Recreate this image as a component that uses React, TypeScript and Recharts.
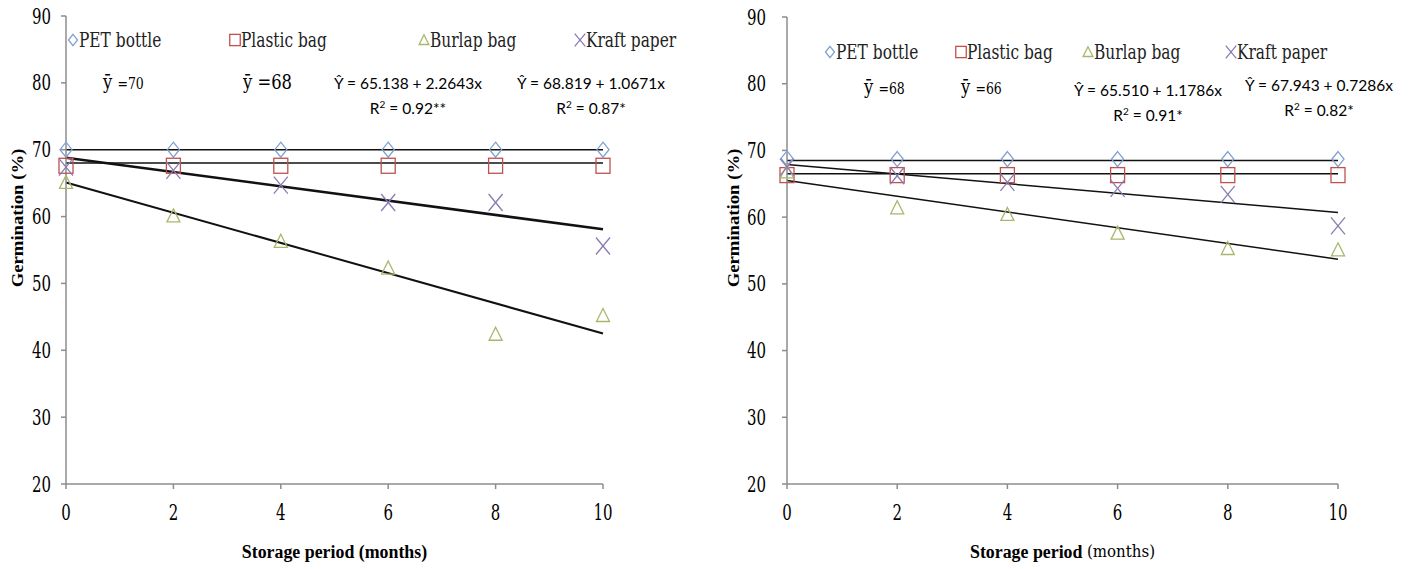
import React from "react";
import { ComposedChart, Scatter, Line, XAxis, YAxis, Label } from "recharts";

const months = [0, 2, 4, 6, 8, 10];
const fitX = [0, 10];
const yTicks = [20, 30, 40, 50, 60, 70, 80, 90];
const seriesNames = ["PET bottle", "Plastic bag", "Burlap bag", "Kraft paper"];
const seriesColors = ["#7ea1d3", "#c0504d", "#a6b86c", "#8a7bb3"];

// left panel
const petA = [70, 70, 70, 70, 70, 70];
const plasticA = [67.6, 67.6, 67.6, 67.6, 67.6, 67.6];
const burlapA = [65.1, 60.1, 56.3, 52.3, 42.4, 45.2];
const kraftA = [67.4, 66.9, 64.7, 62.1, 62.1, 55.6];
const meanA = [70, 68];
const burlapFitA = [65.1, 42.5];
const kraftFitA = [68.8, 58.1];

// right panel
const petB = [68.8, 68.7, 68.7, 68.7, 68.7, 68.7];
const plasticB = [66.3, 66.3, 66.3, 66.3, 66.3, 66.3];
const burlapB = [66.8, 61.4, 60.4, 57.6, 55.3, 55.1];
const kraftB = [67.5, 66.2, 65.2, 64.3, 63.4, 58.7];
const meanB = [68.5, 66.5];
const burlapFitB = [65.5, 53.7];
const kraftFitB = [67.9, 60.7];

const pts = (vals: number[], xs = months) => vals.map((y, i) => ({ x: xs[i], y }));

const Marker = ({ kind, cx, cy, s = 1 }: any) => {
  const c = seriesColors[kind];
  if (kind === 0)
    return <polygon points={`${cx},${cy - 7.5 * s} ${cx + 6 * s},${cy} ${cx},${cy + 7.5 * s} ${cx - 6 * s},${cy}`} fill="none" stroke={c} strokeWidth={1.3} />;
  if (kind === 1)
    return <rect x={cx - 7 * s} y={cy - 7.5 * s} width={14 * s} height={15 * s} fill="none" stroke={c} strokeWidth={1.3} />;
  if (kind === 2)
    return <polygon points={`${cx},${cy - 7 * s} ${cx + 6.5 * s},${cy + 6 * s} ${cx - 6.5 * s},${cy + 6 * s}`} fill="none" stroke={c} strokeWidth={1.3} />;
  return (
    <g stroke={c} strokeWidth={1.3}>
      <line x1={cx - 7 * s} y1={cy - 8.5 * s} x2={cx + 7 * s} y2={cy + 8.5 * s} />
      <line x1={cx + 7 * s} y1={cy - 8.5 * s} x2={cx - 7 * s} y2={cy + 8.5 * s} />
    </g>
  );
};

const LegendMark = ({ kind }: any) => (
  <svg width={12} height={18} style={{ verticalAlign: "-2px" }}>
    <Marker kind={kind} cx={6} cy={9} s={0.75} />
  </svg>
);

const serif = "'DejaVu Serif', serif";
const serifBold = "Liberation Serif";
const sans = "Lato";

// narrowed serif text, the reference uses a Times-like face squeezed sideways
const Narrow = ({ children, k = 0.8 }: any) => (
  <span style={{ display: "inline-block", transform: `scaleX(${k})`, transformOrigin: "left center" }}>{children}</span>
);

const YTick = ({ x, y, payload }: any) => (
  <g transform={`translate(${x},${y}) scale(0.68 1)`}>
    <text x={0} y={0} textAnchor="end" dominantBaseline="central" fontFamily={serif} fontSize={22} fill="#000">
      {payload.value}
    </text>
  </g>
);
const XTick = ({ x, y, payload }: any) => (
  <g transform={`translate(${x},${y + 23}) scale(0.68 1)`}>
    <text x={0} y={0} textAnchor="middle" dominantBaseline="central" fontFamily={serif} fontSize={22} fill="#000">
      {payload.value}
    </text>
  </g>
);

function Panel(props: any) {
  const { left, top, width, yWidth, yMargin, titleX, series, means, fits, legendX, legendY, meanLabels, eqs,
    boldMonths, thick } = props;
  const axisColor = "#8c8c8c";

  const YTitle = ({ viewBox }: any) => {
    const cx = viewBox.x + titleX;
    const cy = 218;
    return (
      <g transform={`translate(${cx} ${cy}) rotate(-90) scale(1.1 1)`}>
        <text x={0} y={0} textAnchor="middle" dominantBaseline="central"
          fontFamily={serifBold} fontWeight="bold" fontSize={17}>
          Germination (%)
        </text>
      </g>
    );
  };
  const XTitle = ({ viewBox }: any) => {
    const cx = viewBox.x + viewBox.width / 2;
    const cy = viewBox.y + 68;
    return (
      <g transform={`translate(${cx} ${cy}) scale(0.94 1)`}>
        <text x={0} y={0} textAnchor="middle" dominantBaseline="central" fontFamily={serifBold} fontSize={19}>
          <tspan fontWeight="bold">Storage period </tspan>
          <tspan fontWeight={boldMonths ? "bold" : "normal"} fontFamily={boldMonths ? serifBold : serif}
            fontSize={boldMonths ? 19 : 16}>(months)</tspan>
        </text>
      </g>
    );
  };

  return (
    <div style={{ position: "absolute", left, top: 0, width, height: 569 }}>
      <ComposedChart width={width} height={569} margin={{ top, right: 20, bottom: 25, left: 0 }}>
        <XAxis type="number" dataKey="x" domain={[0, 10]} ticks={months} stroke={axisColor} strokeWidth={1.5}
          tickSize={5} tickMargin={0} height={60} tick={<XTick />}>
          <Label content={<XTitle />} />
        </XAxis>
        <YAxis type="number" dataKey="y" domain={[20, 90]} ticks={yTicks} stroke={axisColor} strokeWidth={1.5}
          tickSize={5} tickMargin={yMargin} width={yWidth} interval={0} tick={<YTick />}>
          <Label content={<YTitle />} />
        </YAxis>
        {means.map((m: number, i: number) => (
          <Line key={"m" + i} data={pts([m, m], fitX)} dataKey="y" stroke="#111" strokeWidth={1.5} dot={false}
            isAnimationActive={false} legendType="none" />
        ))}
        {fits.map((f: number[], i: number) => (
          <Line key={"f" + i} data={pts(f, fitX)} dataKey="y" stroke="#111" strokeWidth={thick[i]} dot={false}
            isAnimationActive={false} legendType="none" />
        ))}
        {series.map((s: number[], i: number) => (
          <Scatter key={"s" + i} name={seriesNames[i]} data={pts(s)} dataKey="y" isAnimationActive={false}
            shape={(p: any) => <Marker kind={i} cx={p.cx} cy={p.cy} />} />
        ))}
      </ComposedChart>

      {seriesNames.map((n, i) => (
        <div key={n} style={{ position: "absolute", left: legendX[i], top: legendY - 11, fontFamily: serif,
          fontSize: 20, whiteSpace: "nowrap", color: "#222", lineHeight: "22px" }}>
          <LegendMark kind={i} />
          <Narrow k={0.77}>{n}</Narrow>
        </div>
      ))}

      {meanLabels.map((m: any, i: number) => (
        <div key={"ml" + i} style={{ position: "absolute", left: m.x, top: m.y - 13, fontFamily: serif,
          fontSize: 21, whiteSpace: "nowrap", lineHeight: "26px" }}>
          <Narrow k={0.78}>
            ȳ <span style={{ fontSize: m.small ? 16 : 21 }}>={m.v}</span>
          </Narrow>
        </div>
      ))}

      {eqs.map((e: any, i: number) => (
        <div key={"eq" + i} style={{ position: "absolute", left: e.x - 90, top: e.y - 10.5, width: 180,
          textAlign: "center", fontFamily: sans, fontSize: 15.5, lineHeight: "21px", whiteSpace: "nowrap" }}>
          <div>{e.eq}</div>
          <div>R<sup style={{ fontSize: 10 }}>2</sup> = {e.r2}</div>
        </div>
      ))}
    </div>
  );
}

export default function App() {
  return (
    <div style={{ position: "absolute", left: 0, top: 0, width: 1418, height: 569, background: "#fff" }}>
      <Panel left={0} top={16} width={623} yWidth={66} yMargin={10} titleX={17.5}
        series={[petA, plasticA, burlapA, kraftA]} means={meanA} fits={[burlapFitA, kraftFitA]} thick={[2, 2.6]}
        legendX={[67, 229, 418, 574]} legendY={40}
        meanLabels={[{ x: 103, y: 82, v: "70", small: true }, { x: 243, y: 82, v: "68", small: false }]}
        eqs={[
          { x: 408, y: 83, eq: "Ŷ = 65.138 + 2.2643x", r2: "0.92**" },
          { x: 591, y: 83, eq: "Ŷ = 68.819 + 1.0671x", r2: "0.87*" },
        ]}
        boldMonths />
      <Panel left={718} top={17} width={640} yWidth={69} yMargin={16} titleX={15}
        series={[petB, plasticB, burlapB, kraftB]} means={meanB} fits={[burlapFitB, kraftFitB]} thick={[1.5, 1.5]}
        legendX={[106, 237, 364, 507]} legendY={52}
        meanLabels={[{ x: 146, y: 87, v: "68", small: true }, { x: 243, y: 87, v: "66", small: true }]}
        eqs={[
          { x: 430, y: 90, eq: "Ŷ = 65.510 + 1.1786x", r2: "0.91*" },
          { x: 601, y: 85, eq: "Ŷ = 67.943 + 0.7286x", r2: "0.82*" },
        ]} />
    </div>
  );
}
